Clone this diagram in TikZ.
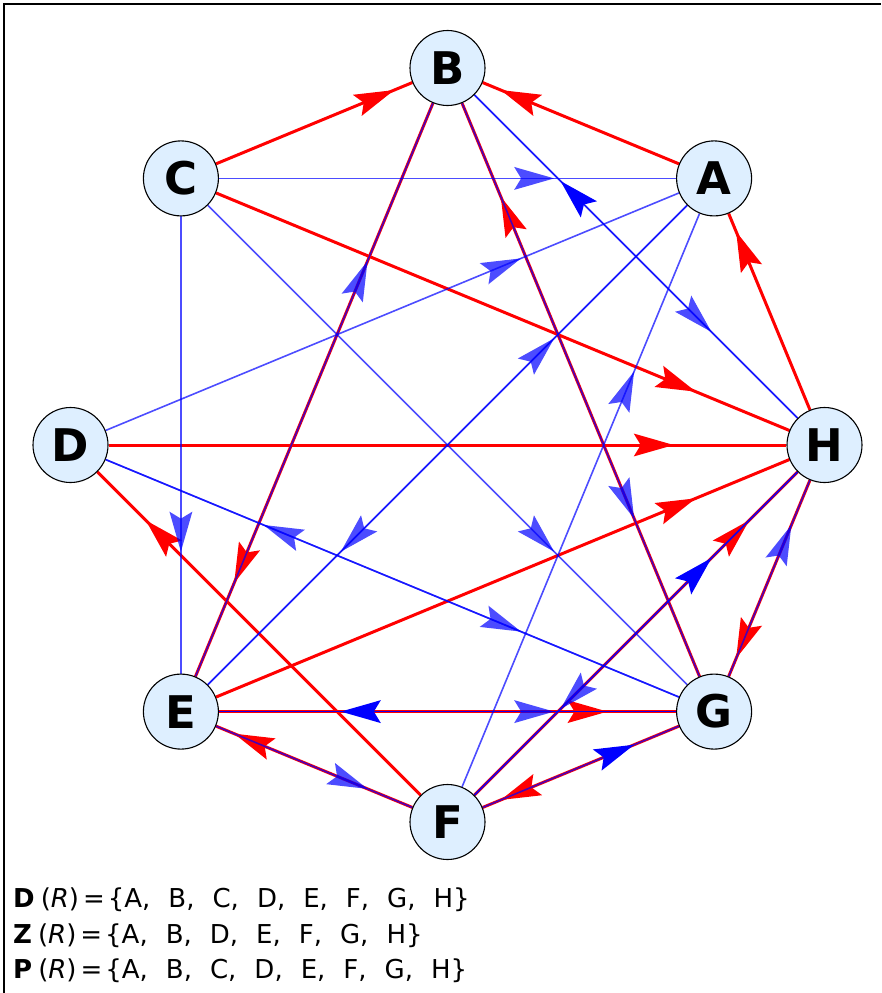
\documentclass[tikz,border=0pt]{standalone}
\usepackage{fontspec}
\setmainfont{DejaVu Sans}
\usetikzlibrary{calc}
\definecolor{nodefill}{RGB}{222,239,255}
\pgfdeclarelayer{bg}
\pgfsetlayers{bg,main}
\tikzset{
  vert/.style={circle, draw=black, line width=1.1pt, fill=nodefill,
    minimum size=75pt, inner sep=0pt, font=\fontsize{45}{45}\selectfont\bfseries},
  redline/.style={draw=red, line width=3pt},
  blueline/.style={draw=blue, draw opacity=0.7, line width=1.6pt},
  redhead/.style={fill=red},
  bluehead/.style={fill=blue, fill opacity=0.7},
  darkhead/.style={fill=blue},
  settext/.style={anchor=base west, inner sep=0pt, font=\fontsize{26}{26}\selectfont},
}
% #1 head style, #2 source, #3 target, #4 fraction of the way
\newcommand\mkhead[4]{%
  \coordinate (tt) at ($(#2.center)!#4!(#3.center)$);
  \fill[#1] (tt) -- ($(tt)!41.6pt!16:(#2.center)$) -- ($(tt)!33pt!(#2.center)$)
    -- ($(tt)!41.6pt!-16:(#2.center)$) -- cycle;}
\newcommand\redarc[2]{\draw[redline] (#1) -- (#2); \mkhead{redhead}{#1}{#2}{0.8}}
\newcommand\bluearc[3][bluehead]{\draw[blueline] (#2) -- (#3); \mkhead{#1}{#2}{#3}{0.7}}
\newcommand\setgap{,\hspace{18pt}}
\newcommand\setpre[1]{\textbf{#1}\hspace{6pt}(\textit{R})\hspace{4pt}=\hspace{3pt}\{}
\begin{document}
\begin{tikzpicture}[x=1pt,y=-1pt]
\useasboundingbox (0,0) rectangle (881,993);
\draw[line width=2pt] (4,993) -- (4,4) -- (881,4);
% vertices
\node[vert] (B) at (447.5,68) {B};
\node[vert] (A) at (714.1,178.4) {A};
\node[vert] (H) at (824.5,445) {H};
\node[vert] (G) at (714.1,711.6) {G};
\node[vert] (F) at (447.5,822) {F};
\node[vert] (E) at (180.9,711.6) {E};
\node[vert] (D) at (70.5,445) {D};
\node[vert] (C) at (180.9,178.4) {C};
\begin{pgfonlayer}{bg}
% red relation
\redarc{C}{B}
\redarc{A}{B}
\redarc{C}{H}
\redarc{D}{H}
\redarc{H}{A}
\redarc{E}{H}
\redarc{F}{D}
\redarc{B}{E}
\redarc{G}{B}
\redarc{H}{G}
\redarc{F}{H}
\redarc{E}{G}
\redarc{F}{E}
\redarc{G}{F}
% blue relation
\bluearc{C}{A}
\bluearc[darkhead]{H}{B}
\bluearc{B}{H}
\bluearc{D}{A}
\bluearc{A}{E}
\bluearc{E}{A}
\bluearc{F}{A}
\bluearc{C}{G}
\bluearc{C}{E}
\bluearc{D}{G}
\bluearc{G}{D}
\bluearc{E}{B}
\bluearc{B}{G}
\bluearc{G}{H}
\bluearc[darkhead]{F}{H}
\bluearc{H}{F}
\bluearc{E}{G}
\bluearc[darkhead]{G}{E}
\bluearc{E}{F}
\bluearc[darkhead]{F}{G}
\end{pgfonlayer}
% property sets
\node[settext] (t1) at (13,907) {\setpre{D}A\setgap B\setgap C\setgap D\setgap E\setgap F\setgap G\setgap H\}};
\node[settext] (t2) at (13,943) {\setpre{Z}A\setgap B\setgap D\setgap E\setgap F\setgap G\setgap H\}};
\node[settext] (t3) at (13,978) {\setpre{P}A\setgap B\setgap C\setgap D\setgap E\setgap F\setgap G\setgap H\}};
\end{tikzpicture}
\end{document}
